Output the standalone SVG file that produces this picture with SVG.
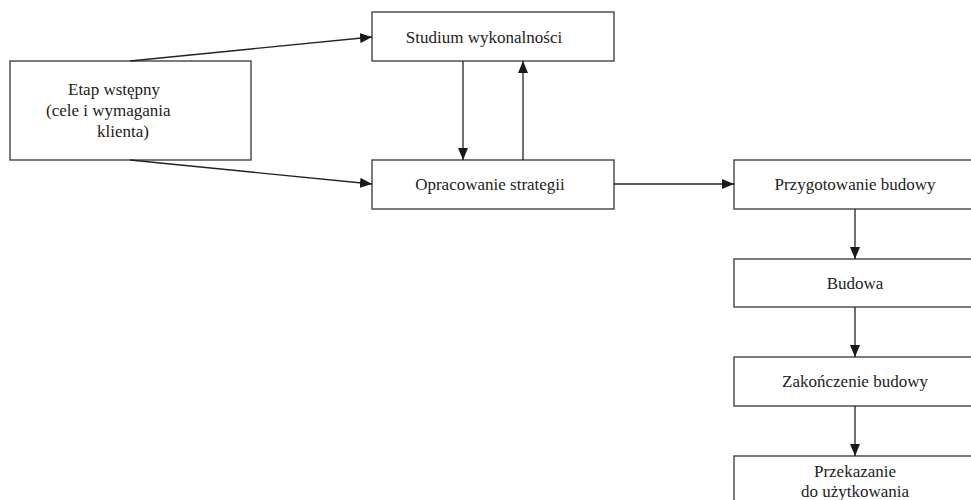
<svg xmlns="http://www.w3.org/2000/svg" width="971" height="500" viewBox="0 0 971 500">
<defs>
<marker id="ah" viewBox="0 0 12 10" refX="12" refY="5" markerWidth="12" markerHeight="10" markerUnits="userSpaceOnUse" orient="auto">
<path d="M0,0 L12,5 L0,10 Z" fill="#1a1a1a"/>
</marker>
</defs>
<style>
.box{fill:#fff;stroke:#444;stroke-width:1.4}
.lbl{font-family:"Liberation Serif","Times New Roman",serif;font-size:17px;fill:#222}
.c{text-anchor:middle}
.con{stroke:#222;stroke-width:1.3;fill:none;marker-end:url(#ah)}
</style>
<rect width="971" height="500" fill="#fff"/>
<g id="etap">
<rect class="box" x="10" y="61" width="241" height="99"/>
<text class="lbl" x="68" y="95">Etap wstępny</text>
<text class="lbl" x="46" y="116">(cele i wymagania</text>
<text class="lbl" x="97" y="137">klienta)</text>
</g>
<g id="studium">
<rect class="box" x="372" y="12" width="242" height="49"/>
<text class="lbl c" x="484" y="43">Studium wykonalności</text>
</g>
<g id="opracowanie">
<rect class="box" x="372" y="160" width="242" height="49"/>
<text class="lbl c" x="490" y="190">Opracowanie strategii</text>
</g>
<g id="przygotowanie">
<rect class="box" x="734" y="160" width="242" height="49"/>
<text class="lbl c" x="855" y="190">Przygotowanie budowy</text>
</g>
<g id="budowa">
<rect class="box" x="734" y="259" width="242" height="48"/>
<text class="lbl c" x="855" y="289">Budowa</text>
</g>
<g id="zakonczenie">
<rect class="box" x="734" y="357" width="242" height="49"/>
<text class="lbl c" x="855" y="387">Zakończenie budowy</text>
</g>
<g id="przekazanie">
<rect class="box" x="734" y="456" width="242" height="60"/>
<text class="lbl c" x="855" y="477">Przekazanie</text>
<text class="lbl c" x="855" y="497">do użytkowania</text>
</g>
<g id="connectors">
<line class="con" x1="130" y1="61" x2="372" y2="37"/>
<line class="con" x1="130" y1="160" x2="372" y2="184"/>
<line class="con" x1="463" y1="61" x2="463" y2="160"/>
<line class="con" x1="523" y1="160" x2="523" y2="61"/>
<line class="con" x1="614" y1="184" x2="734" y2="184"/>
<line class="con" x1="855" y1="209" x2="855" y2="259"/>
<line class="con" x1="855" y1="307" x2="855" y2="357"/>
<line class="con" x1="855" y1="406" x2="855" y2="456"/>
</g>
</svg>
